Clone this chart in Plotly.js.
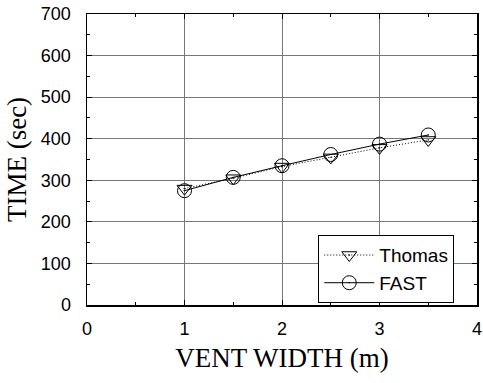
<!DOCTYPE html>
<html>
<head>
<meta charset="utf-8">
<script src="https://cdn.plot.ly/plotly-3.0.1.min.js"></script>
<style>html,body{margin:0;padding:0;background:#fff;}#chart{width:483px;height:383px;}</style>
</head>
<body>
<div id="chart"></div>
<script>
const ventWidth = [1, 1.5, 2, 2.5, 3, 3.5];
const thomasTime = [280, 305, 333, 355, 378, 397];
const fastTime = [275, 307, 335, 362, 387, 409];
const xTicks = [0, 1, 2, 3, 4];
const yTicks = [0, 100, 200, 300, 400, 500, 600, 700];

const traces = [
  {
    x: ventWidth, y: thomasTime, name: 'Thomas', type: 'scatter', mode: 'lines+markers',
    line: {color: '#000', width: 1, dash: '1px,2px'},
    marker: {symbol: 'triangle-down-open-dot', size: 13, color: '#000', line: {color: '#000', width: 1}}
  },
  {
    x: ventWidth, y: fastTime, name: 'FAST', type: 'scatter', mode: 'lines+markers',
    line: {color: '#000', width: 1},
    marker: {symbol: 'circle-open-dot', size: 14, color: '#000', line: {color: '#000', width: 1}}
  }
];

const tickFont = {family: 'Arial, "Liberation Sans", sans-serif', size: 18, color: '#000'};
const titleFont = {family: '"Times New Roman", "Liberation Serif", serif', size: 27, color: '#000'};

const axisCommon = {
  showline: true, linecolor: '#000', linewidth: 1.5, mirror: 'allticks',
  ticks: 'inside', ticklen: 5, tickcolor: '#000',
  showgrid: true, gridcolor: '#777', gridwidth: 1, zeroline: false,
  tickfont: tickFont
};

const layout = {
  width: 483, height: 383,
  margin: {l: 87, r: 6, t: 14, b: 78},
  paper_bgcolor: '#fff', plot_bgcolor: '#fff',
  font: tickFont,
  showlegend: true,
  xaxis: Object.assign({}, axisCommon, {
    range: [0, 4], tickvals: xTicks, ticktext: xTicks.map(String),
    ticklabelstandoff: 7,
    minor: {dtick: 0.5, ticks: 'inside', ticklen: 3, tickcolor: '#000', showgrid: false},
    title: {text: 'VENT WIDTH (m)', font: titleFont, standoff: 10}
  }),
  yaxis: Object.assign({}, axisCommon, {
    range: [0, 700], tickvals: yTicks, ticktext: yTicks.map(String),
    ticklabelstandoff: 11,
    minor: {dtick: 50, ticks: 'inside', ticklen: 3, tickcolor: '#000', showgrid: false},
    title: {text: 'TIME (sec)', font: titleFont, standoff: 6}
  }),
  legend: {
    x: 0.593, y: 0.24, xanchor: 'left', yanchor: 'top',
    bgcolor: '#fff', bordercolor: '#000', borderwidth: 1,
    font: {family: 'Arial, "Liberation Sans", sans-serif', size: 19, color: '#000'},
    tracegroupgap: 0, itemwidth: 50, entrywidth: 161
  }
};

Plotly.newPlot('chart', traces, layout, {staticPlot: true, displayModeBar: false});
</script>
</body>
</html>
